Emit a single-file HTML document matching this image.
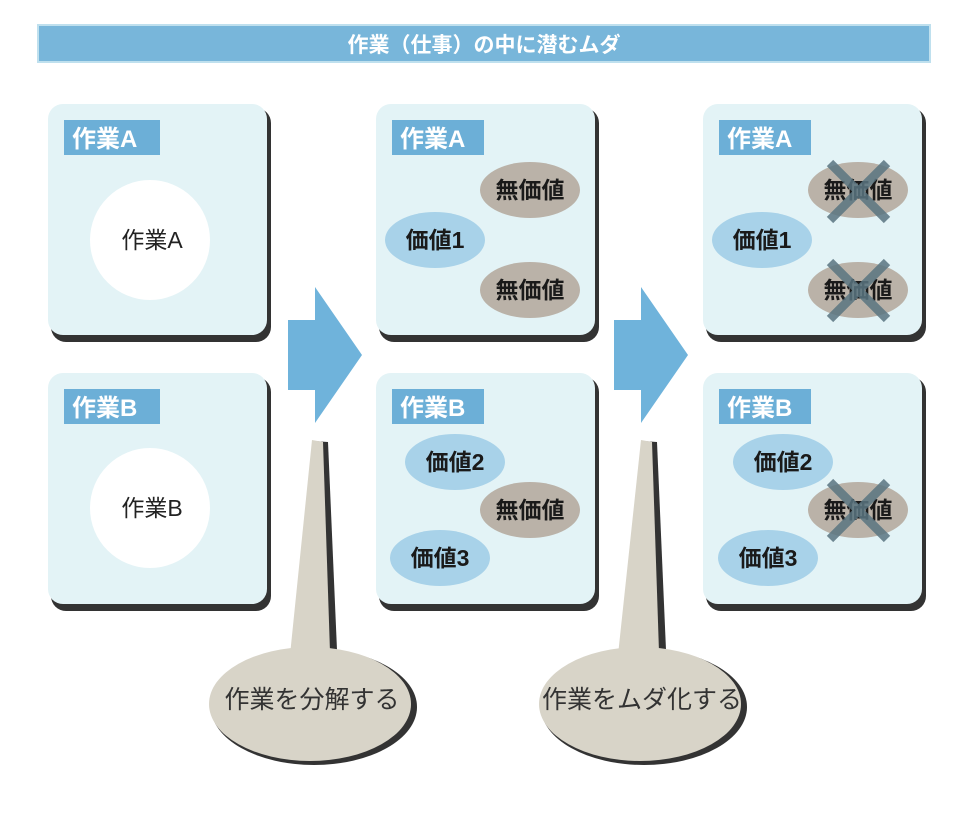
<!DOCTYPE html>
<html><head><meta charset="utf-8"><style>
html,body{margin:0;padding:0;background:#fff;}
svg text{font-family:"Liberation Sans","Noto Sans CJK JP",sans-serif;}
</style></head><body>
<svg width="964" height="808" viewBox="0 0 964 808" xmlns="http://www.w3.org/2000/svg">
<defs>
<g id="panel">
<rect x="3" y="4" width="220" height="234" rx="15" fill="#333"/>
<rect x="0" y="0" width="219" height="231" rx="15" fill="#e3f3f6"/>
</g>
</defs>
<rect x="38" y="25" width="892" height="37" fill="#78b6da" stroke="#bfe0ee" stroke-width="2"/>
<text x="484" y="52" font-size="21" font-weight="bold" fill="#fff" text-anchor="middle">作業（仕事）の中に潜むムダ</text>

<use href="#panel" x="48" y="104"/>
<use href="#panel" x="48" y="373"/>
<use href="#panel" x="376" y="104"/>
<use href="#panel" x="376" y="373"/>
<use href="#panel" x="703" y="104"/>
<use href="#panel" x="703" y="373"/>

<g font-size="24" font-weight="bold" fill="#fff">
<rect x="64" y="120" width="96" height="35" fill="#6cafd7"/><text x="72" y="147">作業A</text>
<rect x="64" y="389" width="96" height="35" fill="#6cafd7"/><text x="72" y="416">作業B</text>
<rect x="392" y="120" width="92" height="35" fill="#6cafd7"/><text x="400" y="147">作業A</text>
<rect x="392" y="389" width="92" height="35" fill="#6cafd7"/><text x="400" y="416">作業B</text>
<rect x="719" y="120" width="92" height="35" fill="#6cafd7"/><text x="727" y="147">作業A</text>
<rect x="719" y="389" width="92" height="35" fill="#6cafd7"/><text x="727" y="416">作業B</text>
</g>

<circle cx="150" cy="240" r="60" fill="#fff"/>
<circle cx="150" cy="508" r="60" fill="#fff"/>
<g font-size="23" fill="#222" text-anchor="middle">
<text x="152" y="248">作業A</text>
<text x="152" y="516">作業B</text>
</g>

<g fill="#a8d2e9">
<ellipse cx="435" cy="240" rx="50" ry="28"/>
<ellipse cx="455" cy="462" rx="50" ry="28"/>
<ellipse cx="440" cy="558" rx="50" ry="28"/>
<ellipse cx="762" cy="240" rx="50" ry="28"/>
<ellipse cx="783" cy="462" rx="50" ry="28"/>
<ellipse cx="768" cy="558" rx="50" ry="28"/>
</g>
<g fill="#bab2a8">
<ellipse cx="530" cy="190" rx="50" ry="28"/>
<ellipse cx="530" cy="290" rx="50" ry="28"/>
<ellipse cx="530" cy="510" rx="50" ry="28"/>
<ellipse cx="858" cy="190" rx="50" ry="28"/>
<ellipse cx="858" cy="290" rx="50" ry="28"/>
<ellipse cx="858" cy="510" rx="50" ry="28"/>
</g>
<g font-size="23" fill="#1a1a1a" text-anchor="middle" font-weight="bold">
<text x="435" y="248">価値1</text>
<text x="455" y="470">価値2</text>
<text x="440" y="566">価値3</text>
<text x="762" y="248">価値1</text>
<text x="783" y="470">価値2</text>
<text x="768" y="566">価値3</text>
<text x="530" y="198">無価値</text>
<text x="530" y="298">無価値</text>
<text x="530" y="518">無価値</text>
<text x="858" y="198">無価値</text>
<text x="858" y="298">無価値</text>
<text x="858" y="518">無価値</text>
</g>
<g stroke="#5a7581" stroke-width="9" opacity="0.85">
<line x1="830" y1="163" x2="887" y2="220"/><line x1="887" y1="163" x2="830" y2="220"/>
<line x1="830" y1="262" x2="887" y2="319"/><line x1="887" y1="262" x2="830" y2="319"/>
<line x1="830" y1="482" x2="887" y2="539"/><line x1="887" y1="482" x2="830" y2="539"/>
</g>

<polygon points="288,320 315,320 315,287 362,355 315,423 315,390 288,390" fill="#6fb3db"/>
<polygon points="614,320 641,320 641,287 688,355 641,423 641,390 614,390" fill="#6fb3db"/>

<g>
<polygon points="313,441 328,442 337,650 300,655" fill="#333"/>
<ellipse cx="314" cy="707" rx="103" ry="58" fill="#333"/>
<polygon points="312,440 323,442 330,652 290,655" fill="#d8d4c8"/>
<ellipse cx="310" cy="704" rx="101" ry="57" fill="#d8d4c8"/>
<text x="312" y="708" font-size="25" fill="#333" text-anchor="middle">作業を分解する</text>

<polygon points="642,441 657,442 666,650 630,655" fill="#333"/>
<ellipse cx="644" cy="707" rx="103" ry="58" fill="#333"/>
<polygon points="641,440 652,442 659,652 618,655" fill="#d8d4c8"/>
<ellipse cx="640" cy="704" rx="101" ry="57" fill="#d8d4c8"/>
<text x="642" y="708" font-size="25" fill="#333" text-anchor="middle">作業をムダ化する</text>
</g>
</svg>
</body></html>
